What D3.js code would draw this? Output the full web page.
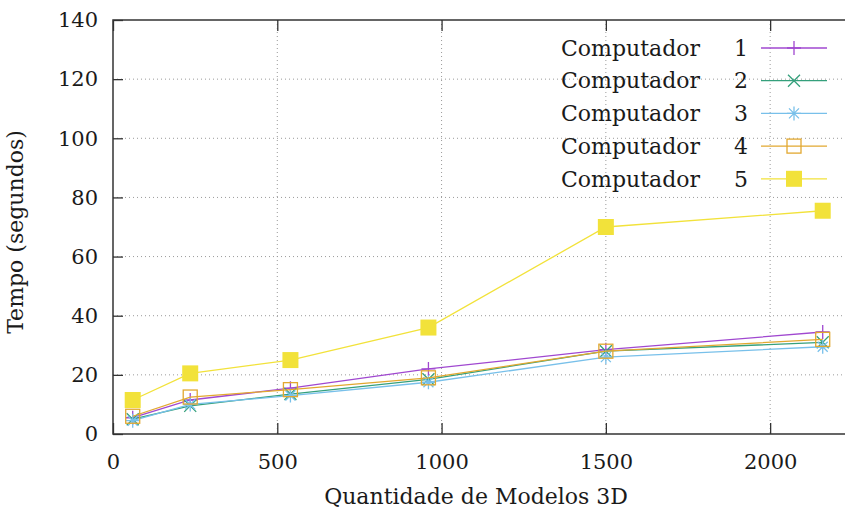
<!DOCTYPE html>
<html>
<head>
<meta charset="utf-8">
<script src="https://cdn.jsdelivr.net/npm/d3@7"></script>
<style>
  body { margin: 0; background: #fff; }
  text { font-family: 'DejaVu Serif', serif; fill: #1a1a1a; }
</style>
</head>
<body>
<div id="chart"></div>
<script>
// values
const models = [60, 235, 540, 960, 1500, 2160]
const comp1 = [5.5, 11.5, 15.5, 22, 28.5, 34.5]
const comp2 = [5, 9.5, 13.5, 18.5, 28, 31]
const comp3 = [4.5, 10, 13, 17.5, 26, 29.5]
const comp4 = [6, 12.5, 15, 19, 28, 32]
const comp5 = [11.5, 20.5, 25, 36, 70, 75.5]
const seriesNames = ['Computador 1', 'Computador 2', 'Computador 3', 'Computador 4', 'Computador 5']
const xTicks = [0, 500, 1000, 1500, 2000]
const yTicks = [0, 20, 40, 60, 80, 100, 120, 140]

const margin = { top: 20, left: 113, right: -4, bottom: 81 }
const width = 845 - margin.left - margin.right
const height = 515 - margin.top - margin.bottom

const svg = d3
  .select('#chart')
  .append('svg')
  .attr('width', 845)
  .attr('height', 515)
  .append('g')
  .attr('transform', 'translate(' + margin.left + ',' + margin.top + ')')

const xScale = d3.scaleLinear().domain([0, 2240]).range([0, width])
const yScale = d3.scaleLinear().domain([0, 140]).range([height, 0])

const colors = ['#a048d0', '#35a07c', '#78c0ea', '#e2a830', '#f2e23a']
const shapes = ['plus', 'cross', 'star', 'box', 'fbox']

const series = [comp1, comp2, comp3, comp4, comp5].map((vals, i) => ({
  name: seriesNames[i],
  color: colors[i],
  shape: shapes[i],
  points: vals.map((v, j) => ({ x: models[j], y: v }))
}))

// grid
svg
  .selectAll('.ygrid')
  .data(yTicks.slice(1, -1))
  .enter()
  .append('line')
  .attr('x1', 0)
  .attr('x2', width)
  .attr('y1', d => yScale(d))
  .attr('y2', d => yScale(d))
  .attr('stroke', '#9a9a9a')
  .attr('stroke-dasharray', '1,3')

svg
  .selectAll('.xgrid')
  .data(xTicks.slice(1))
  .enter()
  .append('line')
  .attr('x1', d => xScale(d))
  .attr('x2', d => xScale(d))
  .attr('y1', 0)
  .attr('y2', height)
  .attr('stroke', '#9a9a9a')
  .attr('stroke-dasharray', '1,3')

// axes (gnuplot style: inward ticks, mirrored)
const yAxis = d3
  .axisLeft(yScale)
  .tickValues(yTicks)
  .tickSize(-10)
  .tickPadding(15)
  .tickFormat(d3.format('d'))
const xAxis = d3
  .axisBottom(xScale)
  .tickValues(xTicks)
  .tickSize(-11)
  .tickPadding(20)
  .tickFormat(d3.format('d'))

svg.append('g').attr('class', 'y-axis').call(yAxis)
svg
  .append('g')
  .attr('class', 'x-axis')
  .attr('transform', 'translate(0,' + height + ')')
  .call(xAxis)

svg
  .append('g')
  .call(d3.axisTop(xScale).tickValues(xTicks).tickSize(-11).tickFormat(''))

svg.selectAll('.domain').remove()
svg.selectAll('.tick line').attr('stroke', '#333').attr('stroke-width', 1.3)
svg
  .selectAll('.x-axis .tick text, .y-axis .tick text')
  .attr('font-size', 21)
  .attr('font-family', 'DejaVu Serif')
  .attr('fill', '#1a1a1a')

svg
  .append('path')
  .attr('d', 'M' + width + ',0H0V' + height + 'H' + width)
  .attr('fill', 'none')
  .attr('stroke', '#333')
  .attr('stroke-width', 1.5)

// axis labels
svg
  .append('text')
  .attr('x', xScale(1105))
  .attr('y', height + 70)
  .attr('text-anchor', 'middle')
  .attr('font-size', 22)
  .text('Quantidade de Modelos 3D')

svg
  .append('text')
  .attr('transform', 'translate(' + (-90) + ',' + (height / 2 + 5) + ') rotate(-90)')
  .attr('text-anchor', 'middle')
  .attr('font-size', 22)
  .text('Tempo (segundos)')

function drawMarker(g, shape, color) {
  if (shape === 'plus') {
    g.append('path').attr('d', 'M-7,0H7M0,-7V7').attr('stroke', color).attr('stroke-width', 1.3)
  } else if (shape === 'cross') {
    g.append('path').attr('d', 'M-6,-6L6,6M-6,6L6,-6').attr('stroke', color).attr('stroke-width', 1.3)
  } else if (shape === 'star') {
    g.append('path')
      .attr('d', 'M-7,0H7M0,-7V7M-5,-5L5,5M-5,5L5,-5')
      .attr('stroke', color)
      .attr('stroke-width', 1.3)
  } else if (shape === 'box') {
    g.append('rect')
      .attr('x', -7)
      .attr('y', -7)
      .attr('width', 14)
      .attr('height', 14)
      .attr('fill', 'none')
      .attr('stroke', color)
      .attr('stroke-width', 1.3)
  } else {
    g.append('rect')
      .attr('x', -8)
      .attr('y', -8)
      .attr('width', 16)
      .attr('height', 16)
      .attr('fill', color)
  }
}

const line = d3
  .line()
  .x(d => xScale(d.x))
  .y(d => yScale(d.y))

series.forEach(s => {
  svg
    .append('path')
    .datum(s.points)
    .attr('d', line)
    .attr('fill', 'none')
    .attr('stroke', s.color)
    .attr('stroke-width', 1.3)

  s.points.forEach(p => {
    const g = svg
      .append('g')
      .attr('transform', 'translate(' + xScale(p.x) + ',' + yScale(p.y) + ')')
    drawMarker(g, s.shape, s.color)
  })
})

// legend
const legend = svg.append('g').attr('transform', 'translate(' + (-margin.left) + ',' + (-margin.top) + ')')
series.forEach((s, i) => {
  const y = 48 + i * 32.7
  const parts = s.name.split(' ')
  const t = legend.append('text').attr('y', y).attr('dy', '0.35em').attr('font-size', 22)
  t.append('tspan').attr('x', 707).attr('text-anchor', 'end').text(parts[0] + ' ')
  t.append('tspan').attr('x', 741).attr('text-anchor', 'middle').text(parts[1])
  legend
    .append('line')
    .attr('x1', 761)
    .attr('x2', 827)
    .attr('y1', y)
    .attr('y2', y)
    .attr('stroke', s.color)
    .attr('stroke-width', 1.3)
  const g = legend.append('g').attr('transform', 'translate(794,' + y + ')')
  drawMarker(g, s.shape, s.color)
})
</script>
</body>
</html>
